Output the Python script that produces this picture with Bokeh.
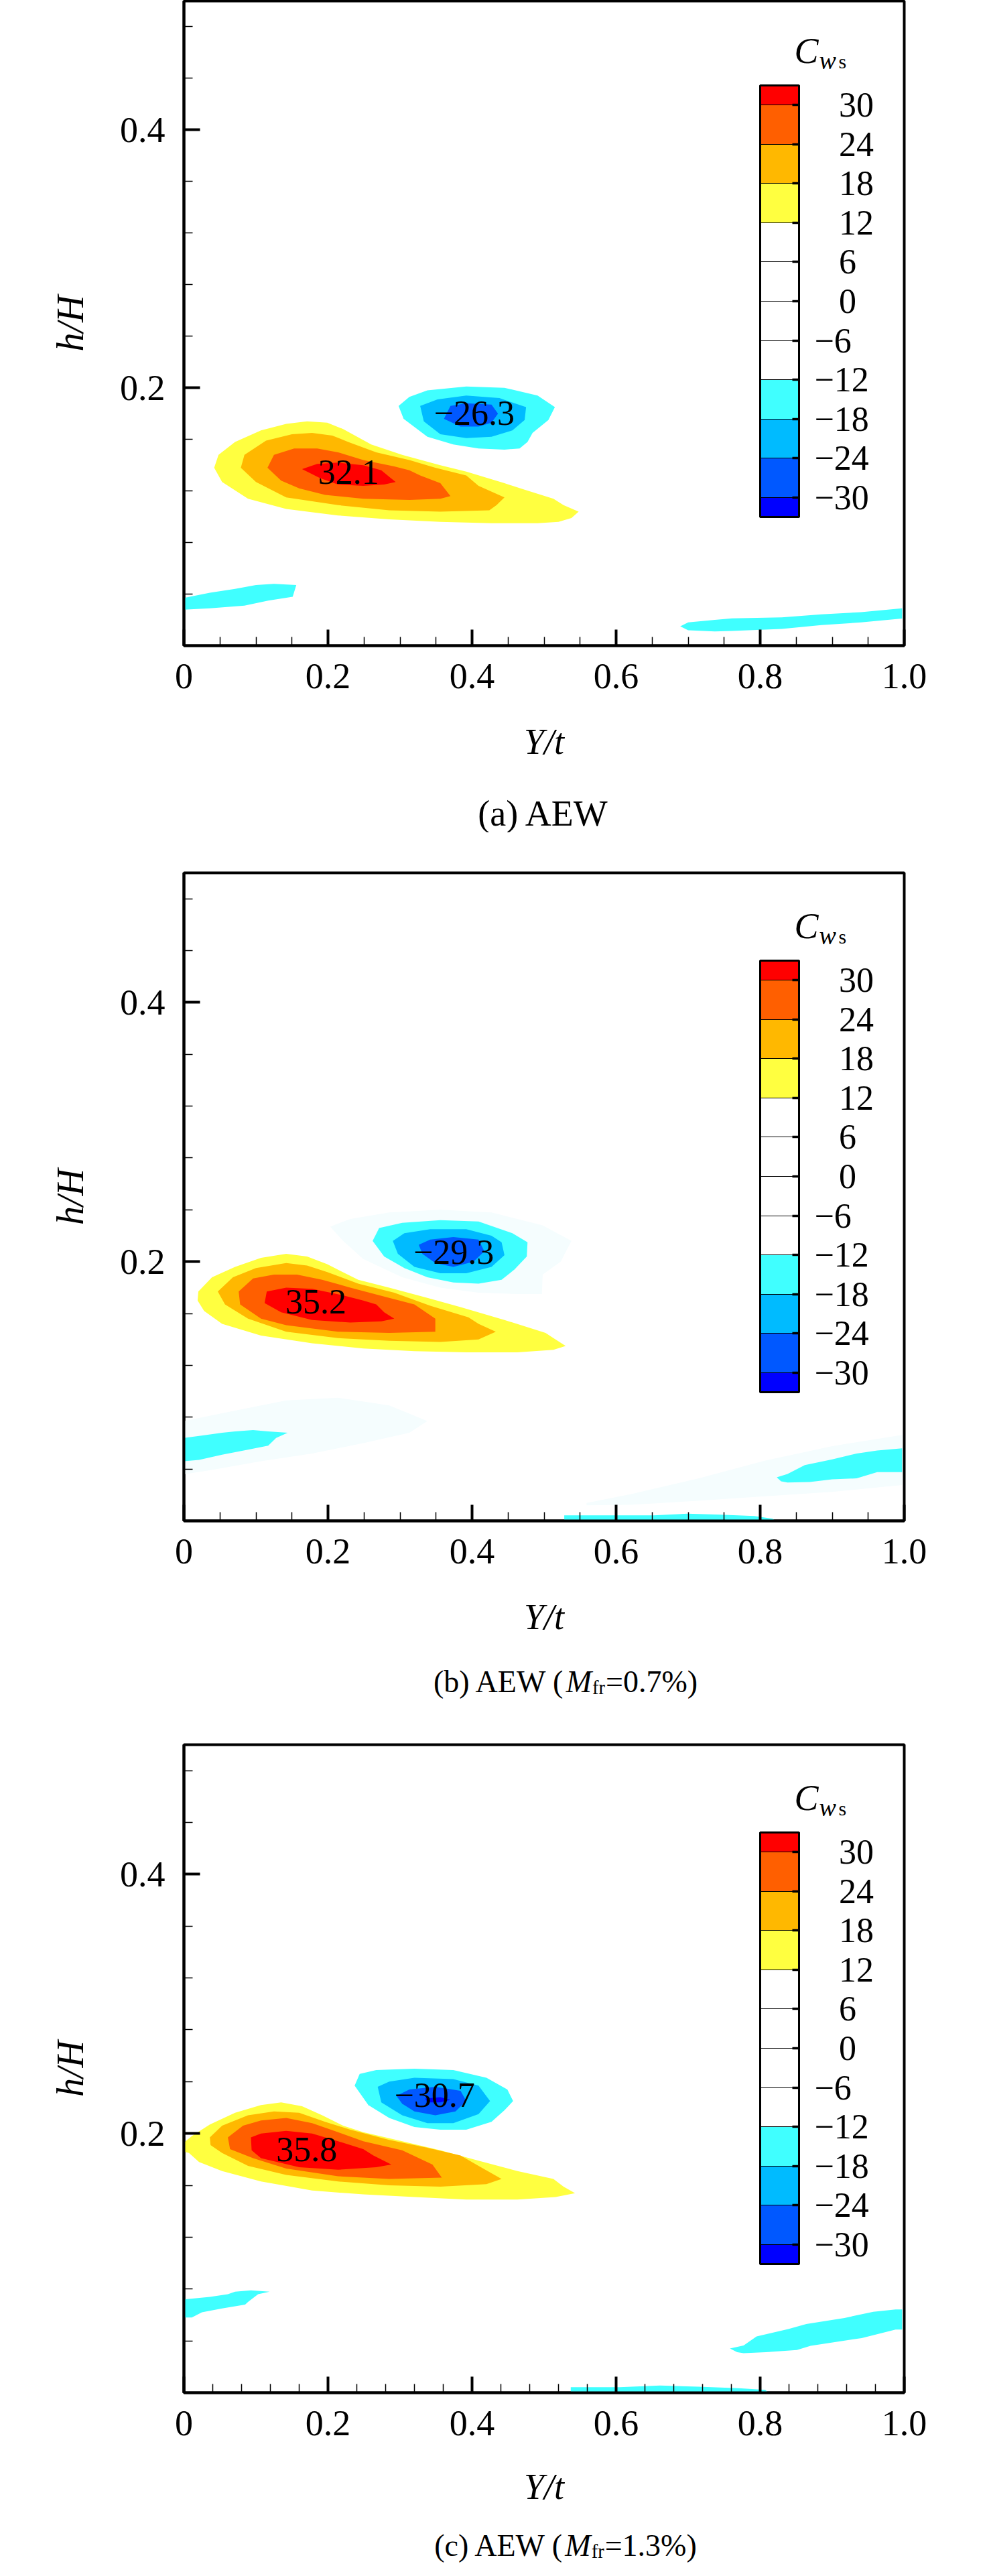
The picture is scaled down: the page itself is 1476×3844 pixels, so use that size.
from bokeh.plotting import figure
from bokeh.models import FixedTicker, ColorBar, LinearColorMapper, Label, Range1d, ColumnDataSource, AllLabels
from bokeh.layouts import column
from bokeh.core.properties import value
from bokeh.embed import file_html
from bokeh.resources import INLINE

# ------------------------------------------------------------------ data
X_TICKS = [0, 0.2, 0.4, 0.6, 0.8, 1.0]
X_TICK_LABELS = ["0", "0.2", "0.4", "0.6", "0.8", "1.0"]
X_MINOR_AB = [0.05, 0.1, 0.15, 0.25, 0.3, 0.35, 0.45, 0.5, 0.55, 0.65, 0.7, 0.75, 0.85, 0.9, 0.95]
X_MINOR_C = [0.04, 0.08, 0.12, 0.16, 0.24, 0.28, 0.32, 0.36, 0.44, 0.48, 0.52, 0.56,
             0.64, 0.68, 0.72, 0.76, 0.84, 0.88, 0.92, 0.96]
Y_TICKS = [0.2, 0.4]
Y_MINOR = [0.04, 0.08, 0.12, 0.16, 0.24, 0.28, 0.32, 0.36, 0.44, 0.48]

CB_LEVELS = [-30, -24, -18, -12, -6, 0, 6, 12, 18, 24, 30]
CB_LABELS = ["\u221230", "\u221224", "\u221218", "\u221212", "\u22126",
             "\u2002\u20090", "\u2002\u20096", "\u2002\u200912", "\u2002\u200918",
             "\u2002\u200924", "\u2002\u200930"]
# colours of the bands, from the lowest (< -30) to the highest (> 30), 3-unit steps
CB_PALETTE = ["#0000FF",
              "#0058FF", "#0058FF",
              "#00BBFF", "#00BBFF",
              "#40FFFF", "#40FFFF",
              "#FFFFFF", "#FFFFFF", "#FFFFFF", "#FFFFFF",
              "#FFFFFF", "#FFFFFF", "#FFFFFF", "#FFFFFF",
              "#FFFF40", "#FFFF40",
              "#FFB800", "#FFB800",
              "#FF5F00", "#FF5F00",
              "#FF0000"]
POS_COLORS = ["#FFFF40", "#FFB800", "#FF5F00", "#FF0000"]   # >=12, >=18, >=24, >=30
NEG_COLORS = ["#40FFFF", "#00BBFF", "#0058FF", "#0000FF"]   # <=-12, <=-18, <=-24, <=-30
FAINT_COLOR = "#F5FDFE"

# ---- panel (a) AEW
A_P12 = [(0.042, 0.138), (0.048, 0.148), (0.071, 0.158), (0.107, 0.167), (0.142, 0.172),
         (0.171, 0.174), (0.199, 0.173), (0.221, 0.168), (0.260, 0.156), (0.303, 0.148),
         (0.356, 0.140), (0.392, 0.135), (0.445, 0.126), (0.473, 0.121), (0.513, 0.114),
         (0.527, 0.109), (0.548, 0.104), (0.538, 0.099), (0.520, 0.096), (0.491, 0.095),
         (0.427, 0.095), (0.356, 0.096), (0.285, 0.098), (0.214, 0.101), (0.142, 0.106),
         (0.089, 0.114), (0.053, 0.127)]
A_P18 = [(0.079, 0.138), (0.084, 0.148), (0.114, 0.159), (0.150, 0.164), (0.178, 0.165),
         (0.206, 0.163), (0.228, 0.158), (0.267, 0.150), (0.313, 0.144), (0.349, 0.138),
         (0.392, 0.132), (0.409, 0.124), (0.445, 0.115), (0.434, 0.109), (0.424, 0.105),
         (0.356, 0.104), (0.285, 0.105), (0.214, 0.109), (0.142, 0.115), (0.100, 0.127)]
A_P24 = [(0.116, 0.138), (0.125, 0.148), (0.153, 0.153), (0.185, 0.153), (0.214, 0.150),
         (0.249, 0.144), (0.292, 0.139), (0.313, 0.136), (0.328, 0.132), (0.356, 0.126),
         (0.370, 0.116), (0.356, 0.114), (0.313, 0.113), (0.249, 0.114), (0.196, 0.117),
         (0.160, 0.122), (0.135, 0.128)]
A_P30 = [(0.164, 0.137), (0.185, 0.141), (0.214, 0.142), (0.249, 0.140), (0.274, 0.136),
         (0.285, 0.131), (0.294, 0.127), (0.278, 0.125), (0.249, 0.124), (0.214, 0.125),
         (0.189, 0.130)]
A_N12 = [(0.298, 0.186), (0.313, 0.193), (0.338, 0.198), (0.392, 0.201), (0.445, 0.200),
         (0.491, 0.194), (0.515, 0.185), (0.506, 0.175), (0.484, 0.165), (0.477, 0.158),
         (0.466, 0.153), (0.445, 0.152), (0.409, 0.153), (0.374, 0.156), (0.338, 0.162),
         (0.305, 0.176)]
A_N18 = [(0.328, 0.186), (0.352, 0.191), (0.392, 0.194), (0.438, 0.192), (0.475, 0.185),
         (0.473, 0.175), (0.456, 0.167), (0.427, 0.162), (0.392, 0.161), (0.356, 0.164),
         (0.333, 0.174)]
A_N24 = [(0.361, 0.176), (0.370, 0.186), (0.392, 0.188), (0.427, 0.187), (0.436, 0.180),
         (0.427, 0.173), (0.409, 0.170), (0.384, 0.170)]
A_STRIP_L = [(0.0, 0.037), (0.036, 0.041), (0.071, 0.044), (0.100, 0.047), (0.125, 0.048),
             (0.156, 0.047), (0.151, 0.038), (0.117, 0.035), (0.084, 0.031), (0.036, 0.029),
             (0.0, 0.028)]
A_STRIP_R = [(0.689, 0.015), (0.700, 0.018), (0.737, 0.020), (0.761, 0.0212), (0.830, 0.022),
             (0.885, 0.0243), (0.940, 0.026), (0.997, 0.029), (0.997, 0.021), (0.940, 0.018),
             (0.885, 0.016), (0.830, 0.013), (0.761, 0.0114), (0.737, 0.011), (0.700, 0.012)]
A_TEXT = ["32.1", "\u221226.3"]
A_TEXT_X = [0.2286, 0.403]
A_TEXT_Y = [0.1347, 0.1802]

# ---- panel (b) AEW (M_fr = 0.7 %)
B_P12 = [(0.019, 0.170), (0.020, 0.177), (0.039, 0.188), (0.071, 0.196), (0.107, 0.203),
         (0.142, 0.206), (0.171, 0.204), (0.199, 0.198), (0.242, 0.186), (0.285, 0.180),
         (0.338, 0.172), (0.384, 0.165), (0.445, 0.155), (0.502, 0.145), (0.513, 0.141),
         (0.530, 0.135), (0.513, 0.132), (0.463, 0.130), (0.392, 0.130), (0.320, 0.131),
         (0.249, 0.133), (0.178, 0.137), (0.107, 0.143), (0.053, 0.152), (0.028, 0.162)]
B_P18 = [(0.047, 0.177), (0.068, 0.188), (0.100, 0.195), (0.142, 0.199), (0.171, 0.197),
         (0.199, 0.192), (0.242, 0.183), (0.292, 0.176), (0.342, 0.166), (0.395, 0.157),
         (0.409, 0.152), (0.433, 0.146), (0.409, 0.140), (0.356, 0.138), (0.285, 0.139),
         (0.214, 0.141), (0.142, 0.146), (0.089, 0.156), (0.057, 0.167)]
B_P24 = [(0.076, 0.177), (0.096, 0.187), (0.125, 0.190), (0.157, 0.190), (0.192, 0.186),
         (0.231, 0.180), (0.285, 0.172), (0.320, 0.167), (0.349, 0.156), (0.349, 0.146),
         (0.285, 0.145), (0.214, 0.146), (0.142, 0.151), (0.107, 0.156), (0.078, 0.167)]
B_P30 = [(0.112, 0.168), (0.115, 0.177), (0.142, 0.180), (0.178, 0.179), (0.221, 0.174),
         (0.249, 0.170), (0.267, 0.167), (0.278, 0.161), (0.292, 0.156), (0.274, 0.154),
         (0.231, 0.153), (0.178, 0.155), (0.135, 0.161)]
B_N12 = [(0.262, 0.216), (0.271, 0.226), (0.303, 0.230), (0.356, 0.232), (0.409, 0.231),
         (0.456, 0.222), (0.477, 0.215), (0.476, 0.204), (0.459, 0.194), (0.441, 0.186),
         (0.409, 0.183), (0.374, 0.184), (0.338, 0.188), (0.306, 0.195), (0.278, 0.204)]
B_N18 = [(0.290, 0.216), (0.306, 0.222), (0.342, 0.225), (0.392, 0.225), (0.427, 0.220),
         (0.441, 0.215), (0.445, 0.205), (0.427, 0.196), (0.392, 0.191), (0.356, 0.191),
         (0.320, 0.196), (0.297, 0.206)]
B_N24 = [(0.326, 0.213), (0.342, 0.217), (0.374, 0.219), (0.409, 0.217), (0.417, 0.208),
         (0.402, 0.200), (0.374, 0.196), (0.349, 0.199), (0.331, 0.206)]
B_FAINT_N = [(0.203, 0.227), (0.231, 0.233), (0.285, 0.238), (0.356, 0.240), (0.427, 0.238),
             (0.498, 0.228), (0.538, 0.216), (0.523, 0.200), (0.498, 0.190), (0.497, 0.175),
             (0.463, 0.175), (0.409, 0.176), (0.356, 0.180), (0.303, 0.188), (0.249, 0.202),
             (0.221, 0.216)]
B_FAINT_L = [(0.0, 0.077), (0.071, 0.085), (0.142, 0.093), (0.214, 0.095), (0.285, 0.089),
             (0.338, 0.077), (0.313, 0.068), (0.249, 0.060), (0.178, 0.052), (0.107, 0.046),
             (0.036, 0.039), (0.0, 0.036)]
B_FAINT_R = [(0.559, 0.0138), (0.621, 0.0207), (0.714, 0.0327), (0.807, 0.0465), (0.900, 0.0577),
             (0.997, 0.0663), (0.997, 0.0276), (0.900, 0.0224), (0.807, 0.0190), (0.714, 0.0155),
             (0.621, 0.0124), (0.559, 0.0120)]
B_STRIP_L = [(0.0, 0.064), (0.028, 0.066), (0.053, 0.068), (0.071, 0.069), (0.096, 0.070),
             (0.117, 0.069), (0.144, 0.068), (0.128, 0.064), (0.117, 0.058), (0.089, 0.055),
             (0.053, 0.051), (0.021, 0.047), (0.0, 0.046)]
B_STRIP_R = [(0.823, 0.0336), (0.838, 0.0362), (0.862, 0.0430), (0.900, 0.0475), (0.934, 0.0520),
             (0.9625, 0.0543), (0.997, 0.0560), (0.997, 0.0376), (0.9625, 0.0376), (0.934, 0.0328),
             (0.900, 0.0320), (0.869, 0.0300), (0.838, 0.0296), (0.829, 0.0305)]
B_STRIP_B = [(0.528, 0.0), (0.528, 0.0043), (0.652, 0.0043), (0.699, 0.0055), (0.745, 0.0048),
             (0.792, 0.0038), (0.817, 0.0017), (0.822, 0.0)]
B_TEXT = ["35.2", "\u221229.3"]
B_TEXT_X = [0.1833, 0.3746]
B_TEXT_Y = [0.1690, 0.2071]

# ---- panel (c) AEW (M_fr = 1.3 %)
C_P12 = [(0.0, 0.193), (0.011, 0.198), (0.036, 0.207), (0.071, 0.216), (0.107, 0.222),
         (0.135, 0.224), (0.164, 0.221), (0.192, 0.214), (0.221, 0.206), (0.249, 0.201),
         (0.303, 0.194), (0.356, 0.187), (0.409, 0.179), (0.463, 0.171), (0.513, 0.165),
         (0.527, 0.159), (0.543, 0.154), (0.516, 0.151), (0.463, 0.149), (0.392, 0.149),
         (0.320, 0.151), (0.249, 0.153), (0.178, 0.156), (0.107, 0.163), (0.053, 0.171),
         (0.021, 0.178), (0.007, 0.185), (0.0, 0.186)]
C_P18 = [(0.036, 0.197), (0.053, 0.206), (0.089, 0.214), (0.125, 0.217), (0.160, 0.216),
         (0.196, 0.209), (0.231, 0.203), (0.285, 0.195), (0.338, 0.189), (0.384, 0.183),
         (0.409, 0.175), (0.441, 0.165), (0.420, 0.161), (0.356, 0.159), (0.285, 0.160),
         (0.214, 0.163), (0.142, 0.168), (0.089, 0.175), (0.053, 0.185), (0.037, 0.191)]
C_P24 = [(0.061, 0.197), (0.082, 0.206), (0.107, 0.210), (0.142, 0.212), (0.178, 0.208),
         (0.214, 0.201), (0.249, 0.194), (0.303, 0.187), (0.345, 0.176), (0.358, 0.166),
         (0.285, 0.165), (0.214, 0.167), (0.142, 0.173), (0.096, 0.181), (0.064, 0.188)]
C_P30 = [(0.093, 0.197), (0.107, 0.200), (0.142, 0.202), (0.178, 0.200), (0.214, 0.194),
         (0.249, 0.188), (0.263, 0.183), (0.288, 0.176), (0.267, 0.174), (0.214, 0.172),
         (0.160, 0.174), (0.107, 0.181), (0.094, 0.187)]
C_N12 = [(0.237, 0.237), (0.244, 0.246), (0.267, 0.249), (0.320, 0.250), (0.374, 0.249),
         (0.420, 0.243), (0.449, 0.234), (0.457, 0.225), (0.445, 0.218), (0.427, 0.209),
         (0.392, 0.203), (0.356, 0.203), (0.320, 0.205), (0.285, 0.212), (0.256, 0.222)]
C_N18 = [(0.269, 0.236), (0.285, 0.240), (0.320, 0.243), (0.374, 0.242), (0.409, 0.237),
         (0.425, 0.225), (0.409, 0.215), (0.374, 0.208), (0.338, 0.208), (0.303, 0.214),
         (0.274, 0.224)]
C_N24 = [(0.295, 0.229), (0.313, 0.234), (0.349, 0.236), (0.384, 0.233), (0.392, 0.225),
         (0.377, 0.217), (0.349, 0.214), (0.320, 0.217), (0.303, 0.223)]
C_N30 = [(0.335, 0.227), (0.356, 0.228), (0.370, 0.226), (0.356, 0.224), (0.338, 0.224)]
C_STRIP_L = [(0.0, 0.072), (0.036, 0.074), (0.061, 0.076), (0.071, 0.078), (0.093, 0.079),
             (0.119, 0.078), (0.103, 0.076), (0.089, 0.070), (0.085, 0.068), (0.053, 0.065),
             (0.025, 0.062), (0.011, 0.058), (0.0, 0.058)]
C_STRIP_R = [(0.758, 0.0341), (0.777, 0.0365), (0.795, 0.0434), (0.839, 0.0491), (0.864, 0.0530),
             (0.917, 0.0577), (0.957, 0.0624), (0.988, 0.0643), (0.997, 0.0643), (0.997, 0.0487),
             (0.988, 0.0487), (0.941, 0.0422), (0.870, 0.0362), (0.851, 0.0330), (0.808, 0.0313),
             (0.777, 0.0305), (0.768, 0.0313)]
C_STRIP_B = [(0.537, 0.0), (0.537, 0.0043), (0.605, 0.0043), (0.661, 0.0055), (0.714, 0.0047),
             (0.770, 0.0035), (0.807, 0.0022), (0.812, 0.0)]
C_TEXT = ["35.8", "\u221230.7"]
C_TEXT_X = [0.1705, 0.348]
C_TEXT_Y = [0.1875, 0.2296]

# captions: head (roman), italic symbol, subscript, tail (roman)
CAPTION_A = ("(a) AEW", None, None, None)
CAPTION_B = ("(b) AEW (", "M", "fr", "=0.7%)")
CAPTION_C = ("(c) AEW (", "M", "fr", "=1.3%)")

PANELS = [
    dict(pos=[A_P12, A_P18, A_P24, A_P30], neg=[A_N12, A_N18, A_N24], faint=[],
         strips=[A_STRIP_L, A_STRIP_R], text=(A_TEXT, A_TEXT_X, A_TEXT_Y),
         minor=X_MINOR_AB, caption=CAPTION_A),
    dict(pos=[B_P12, B_P18, B_P24, B_P30], neg=[B_N12, B_N18, B_N24],
         faint=[B_FAINT_N, B_FAINT_L, B_FAINT_R],
         strips=[B_STRIP_L, B_STRIP_R, B_STRIP_B], text=(B_TEXT, B_TEXT_X, B_TEXT_Y),
         minor=X_MINOR_AB, caption=CAPTION_B),
    dict(pos=[C_P12, C_P18, C_P24, C_P30], neg=[C_N12, C_N18, C_N24, C_N30], faint=[],
         strips=[C_STRIP_L, C_STRIP_R, C_STRIP_B], text=(C_TEXT, C_TEXT_X, C_TEXT_Y),
         minor=X_MINOR_C, caption=CAPTION_C),
]

# ------------------------------------------------------------------ layout / style
FONT = "Liberation Serif"
PAGE_W = 1460
FRAME_W = 1075
FRAME_H = [962, 967, 967]
BORDER_TOP = [1, 60, 51]
BORDER_BOTTOM = 110
BORDER_LEFT = 274
BORDER_RIGHT = PAGE_W - BORDER_LEFT - FRAME_W
CAP_H = [169, 173, 148]               # height of the strip below each panel
YT_DROP = [143, 143, 140]             # centre of "Y/t", px below frame bottom
CAPTION_SIZE = [54, 46, 46]
CAPTION_CENTER = [537, 568, 568]      # px from frame left
CAPTION_DROP = [250, 240, 228]        # caption baseline, px below frame bottom

# Times / Liberation Serif advance widths (1/1000 em)
GLYPH_W = {'(': 333, ')': 333, 'a': 444, 'b': 500, 'c': 444, ' ': 250, 'A': 722, 'E': 611,
           'W': 944, 'M': 833, 'f': 333, 'r': 333, '=': 564, '0': 500, '.': 250, '7': 500,
           '1': 500, '3': 500, '%': 833}


def text_width(s, size):
    return sum(GLYPH_W.get(ch, 500) for ch in s) * size / 1000.0


def make_panel(i, d):
    fh = FRAME_H[i]
    ppu_y = fh / 0.5
    p = figure(frame_width=FRAME_W, frame_height=fh, x_range=Range1d(0, 1), y_range=Range1d(0, 0.5),
               output_backend="svg", toolbar_location=None, title=None,
               min_border_left=BORDER_LEFT, min_border_right=BORDER_RIGHT,
               min_border_top=BORDER_TOP[i], min_border_bottom=BORDER_BOTTOM,
               background_fill_color="white", border_fill_color="white")
    p.grid.visible = False
    p.outline_line_color = "black"
    p.outline_line_width = 4
    p.outline_line_alpha = 1

    # filled contour regions
    for poly in d["faint"]:
        p.patch([q[0] for q in poly], [q[1] for q in poly], fill_color=FAINT_COLOR, line_color=None)
    for poly in d["strips"]:
        p.patch([q[0] for q in poly], [q[1] for q in poly], fill_color=NEG_COLORS[0], line_color=None)
    for poly, col in zip(d["pos"], POS_COLORS):
        p.patch([q[0] for q in poly], [q[1] for q in poly], fill_color=col, line_color=None)
    for poly, col in zip(d["neg"], NEG_COLORS):
        p.patch([q[0] for q in poly], [q[1] for q in poly], fill_color=col, line_color=None)

    texts, tx, ty = d["text"]
    src = ColumnDataSource(dict(x=tx, y=ty, t=texts))
    p.text(x="x", y="y", text="t", source=src, text_font=value(FONT), text_font_size="52px",
           text_align="center", text_baseline="middle", text_color="black")

    # axes
    for ax in (p.xaxis[0], p.yaxis[0]):
        ax.axis_line_width = 4
        ax.axis_line_color = "black"
        ax.major_tick_in = 24
        ax.major_tick_out = 0
        ax.major_tick_line_width = 4
        ax.minor_tick_in = 13
        ax.minor_tick_out = 0
        ax.minor_tick_line_width = 1.5
        ax.major_label_text_font = FONT
        ax.major_label_text_font_size = "54px"
        ax.major_label_text_color = "black"
        ax.major_label_policy = AllLabels()
    p.xaxis.ticker = FixedTicker(ticks=X_TICKS, minor_ticks=d["minor"])
    p.xaxis.major_label_overrides = dict(zip(X_TICKS, X_TICK_LABELS))
    p.xaxis.major_label_standoff = 27
    p.yaxis.ticker = FixedTicker(ticks=Y_TICKS, minor_ticks=Y_MINOR)
    p.yaxis.major_label_standoff = 28
    p.yaxis.axis_label = "h/H"
    p.yaxis.axis_label_standoff = 40
    p.yaxis.axis_label_text_font = FONT
    p.yaxis.axis_label_text_font_size = "56px"
    p.yaxis.axis_label_text_font_style = "italic"
    p.yaxis.axis_label_text_color = "black"

    # colour bar
    mapper = LinearColorMapper(palette=CB_PALETTE, low=-33, high=33)
    cb = ColorBar(color_mapper=mapper, orientation="vertical", location=(860, 192),
                  width=58, height=644, padding=0, margin=0,
                  ticker=FixedTicker(ticks=CB_LEVELS, minor_ticks=CB_LEVELS),
                  major_label_overrides=dict(zip(CB_LEVELS, CB_LABELS)),
                  major_label_policy=AllLabels(),
                  major_label_text_font=FONT, major_label_text_font_size="52px",
                  major_label_text_color="black", label_standoff=23,
                  major_tick_in=58, major_tick_out=0, major_tick_line_color="black",
                  major_tick_line_width=1.2,
                  minor_tick_in=10, minor_tick_out=0, minor_tick_line_color="black",
                  minor_tick_line_width=3.5,
                  bar_line_color="black", bar_line_width=3,
                  background_fill_alpha=0, border_line_alpha=0)
    p.add_layout(cb)

    # colour bar title  C_{w_s}
    for txt, style, size, px_x, px_base in [("C", "italic", 54, 911, 888),
                                           ("w", "italic", 38, 948, 874),
                                           ("s", "normal", 30, 977, 872)]:
        p.add_layout(Label(x=px_x / FRAME_W, y=px_base / ppu_y, text=txt, text_font=FONT,
                           text_font_style=style, text_font_size=f"{size}px",
                           text_align="left", text_baseline="alphabetic", text_color="black"))
    return p


def caption_label(x_px, y_px, text, style, size, align):
    return Label(x=x_px / FRAME_W, y=y_px, text=text, text_font=FONT, text_font_style=style,
                 text_font_size=f"{size:.1f}px", text_align=align, text_baseline="alphabetic",
                 text_color="black")


def make_caption(i, d):
    h = CAP_H[i]
    # same horizontal frame as the panel above, vertical unit = pixel
    c = figure(frame_width=FRAME_W, frame_height=h, x_range=Range1d(0, 1), y_range=Range1d(0, h),
               output_backend="svg", toolbar_location=None, title=None,
               x_axis_type=None, y_axis_type=None,
               min_border_left=BORDER_LEFT, min_border_right=BORDER_RIGHT,
               min_border_top=0, min_border_bottom=0,
               background_fill_color="white", border_fill_color="white")
    c.grid.visible = False
    c.outline_line_color = None
    top_off = BORDER_BOTTOM   # this strip starts that many px below the panel frame
    c.add_layout(Label(x=0.5, y=h - (YT_DROP[i] - top_off), text="Y/t",
                       text_font=FONT, text_font_style="italic", text_font_size="54px",
                       text_align="center", text_baseline="middle", text_color="black"))
    head, sym, sub, tail = d["caption"]
    size = CAPTION_SIZE[i]
    y0 = h - (CAPTION_DROP[i] - top_off)
    if sym is None:
        c.add_layout(caption_label(CAPTION_CENTER[i], y0, head, "normal", size, "center"))
    else:
        sub_size = 0.62 * size
        total = (text_width(head, size) + text_width(sym, size) + text_width(sub, sub_size)
                 + text_width(tail, size))
        anchor = CAPTION_CENTER[i] - total / 2.0 + text_width(head, size)
        c.add_layout(caption_label(anchor, y0, head, "normal", size, "right"))
        x_sym = anchor + 1
        c.add_layout(caption_label(x_sym, y0, sym, "italic", size, "left"))
        x_sub = x_sym + text_width(sym, size) + 1
        c.add_layout(caption_label(x_sub, y0 - 0.2 * size, sub, "normal", sub_size, "left"))
        x_tail = x_sub + text_width(sub, sub_size) + 1
        c.add_layout(caption_label(x_tail, y0, tail, "normal", size, "left"))
    return c


items = []
for i, d in enumerate(PANELS):
    items.append(make_panel(i, d))
    items.append(make_caption(i, d))
layout = column(*items, spacing=0)

with open("out.html", "w") as f:
    f.write(file_html(layout, INLINE))
